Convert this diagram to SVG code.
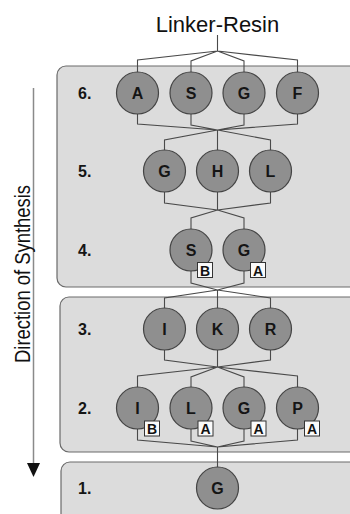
<svg xmlns="http://www.w3.org/2000/svg" width="350" height="514" viewBox="0 0 350 514">
<style>
.panel{fill:#dcdcdc;stroke:#6a6a6a;stroke-width:1.2}
.conn path{fill:none;stroke:#4a4a4a;stroke-width:1.1}
.node circle{fill:#8f8f8f;stroke:#444;stroke-width:1.2}
.node text{font-family:"Liberation Sans",Arial,sans-serif;font-weight:bold;font-size:16px;fill:#151515;text-anchor:middle}
.badge rect{fill:#fafafa;stroke:#333;stroke-width:1}
.badge text{font-family:"Liberation Sans",Arial,sans-serif;font-weight:bold;font-size:14px;fill:#111;text-anchor:middle}
.lbl{font-family:"Liberation Sans",Arial,sans-serif;font-weight:bold;font-size:16px;fill:#151515}
.title{font-family:"Liberation Sans",Arial,sans-serif;font-size:22px;fill:#111}
</style>
<rect width="350" height="514" fill="#ffffff"/>
<g id="panels">
<rect class="panel" x="57" y="66" width="310" height="221" rx="9"/>
<rect class="panel" x="60" y="297" width="310" height="155" rx="9"/>
<rect class="panel" x="61" y="462" width="310" height="70" rx="9"/>
</g>
<g id="title"><text class="title" x="217.5" y="31.5" text-anchor="middle">Linker-Resin</text></g>
<g id="direction">
<line x1="33.5" y1="88" x2="33.5" y2="465" stroke="#8a8a8a" stroke-width="1.5"/>
<polygon points="27,463 40,463 33.5,477" fill="#111"/>
<text class="title" font-size="19.5" transform="translate(30,274) rotate(-90)" text-anchor="middle" textLength="178" lengthAdjust="spacingAndGlyphs">Direction of Synthesis</text>
</g>
<g id="row-labels">
<text class="lbl" x="78" y="99">6.</text>
<text class="lbl" x="78" y="177">5.</text>
<text class="lbl" x="78" y="256">4.</text>
<text class="lbl" x="78" y="335">3.</text>
<text class="lbl" x="78" y="414">2.</text>
<text class="lbl" x="78" y="494">1.</text>
</g>
<g id="connectors" class="conn">
<path d="M217.5,35 V51 M217.5,51 L137.5,60 V72 M217.5,51 L297.5,60 V72 M217.5,51 L191,61 V72 M217.5,51 L244,61 V72"/>
<path d="M137.5,114 V124 L217.5,130 M297.5,114 V124 L217.5,130 M191,114 V125 L217.5,130 M244,114 V125 L217.5,130 M217.5,130 L164.5,140 V150 M217.5,130 L270.5,140 V150 M217.5,130 V150"/>
<path d="M164.5,192 V203 L217.5,210 M270.5,192 V203 L217.5,210 M217.5,192 V210 M217.5,210 L191,218 V229 M217.5,210 L244,218 V229"/>
<path d="M191,271 V283 L217.5,290 M244,271 V283 L217.5,290 M217.5,290 L164.5,298 V308 M217.5,290 L270.5,298 V308 M217.5,290 V308"/>
<path d="M164.5,350 V360 L217.5,367 M270.5,350 V360 L217.5,367 M217.5,350 V367 M217.5,367 L137.5,376 V387 M217.5,367 L297.5,376 V387 M217.5,367 L191,377 V387 M217.5,367 L244,377 V387"/>
<path d="M137.5,429 V440 L217.5,447 M297.5,429 V440 L217.5,447 M191,429 V441 L217.5,447 M244,429 V441 L217.5,447 M217.5,447 V467"/>
</g>
<g id="r6-A" class="node"><circle cx="137.5" cy="93" r="21"/><text x="137.5" y="99">A</text></g>
<g id="r6-S" class="node"><circle cx="191" cy="93" r="21"/><text x="191" y="99">S</text></g>
<g id="r6-G" class="node"><circle cx="244" cy="93" r="21"/><text x="244" y="99">G</text></g>
<g id="r6-F" class="node"><circle cx="297.5" cy="93" r="21"/><text x="297.5" y="99">F</text></g>
<g id="r5-G" class="node"><circle cx="164.5" cy="171" r="21"/><text x="164.5" y="177">G</text></g>
<g id="r5-H" class="node"><circle cx="217.5" cy="171" r="21"/><text x="217.5" y="177">H</text></g>
<g id="r5-L" class="node"><circle cx="270.5" cy="171" r="21"/><text x="270.5" y="177">L</text></g>
<g id="r4-S" class="node"><circle cx="191" cy="250" r="21"/><text x="191" y="256">S</text><g class="badge"><rect x="197.5" y="262.5" width="15" height="15"/><text x="205" y="275.5">B</text></g></g>
<g id="r4-G" class="node"><circle cx="244" cy="250" r="21"/><text x="244" y="256">G</text><g class="badge"><rect x="250.5" y="262.5" width="15" height="15"/><text x="258" y="275.5">A</text></g></g>
<g id="r3-I" class="node"><circle cx="164.5" cy="329" r="21"/><text x="164.5" y="335">I</text></g>
<g id="r3-K" class="node"><circle cx="217.5" cy="329" r="21"/><text x="217.5" y="335">K</text></g>
<g id="r3-R" class="node"><circle cx="270.5" cy="329" r="21"/><text x="270.5" y="335">R</text></g>
<g id="r2-I" class="node"><circle cx="137.5" cy="408" r="21"/><text x="137.5" y="414">I</text><g class="badge"><rect x="144.5" y="421" width="15" height="15"/><text x="152" y="434">B</text></g></g>
<g id="r2-L" class="node"><circle cx="191" cy="408" r="21"/><text x="191" y="414">L</text><g class="badge"><rect x="198" y="421" width="15" height="15"/><text x="205.5" y="434">A</text></g></g>
<g id="r2-G" class="node"><circle cx="244" cy="408" r="21"/><text x="244" y="414">G</text><g class="badge"><rect x="251" y="421" width="15" height="15"/><text x="258.5" y="434">A</text></g></g>
<g id="r2-P" class="node"><circle cx="297.5" cy="408" r="21"/><text x="297.5" y="414">P</text><g class="badge"><rect x="304.5" y="421" width="15" height="15"/><text x="312" y="434">A</text></g></g>
<g id="r1-G" class="node"><circle cx="217.5" cy="488" r="21"/><text x="217.5" y="494">G</text></g>
</svg>
